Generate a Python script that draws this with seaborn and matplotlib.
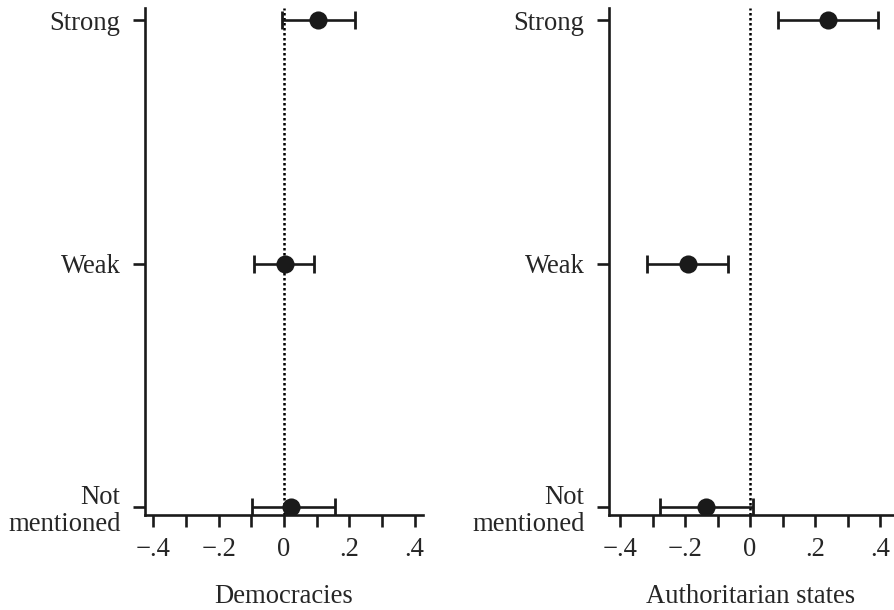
import matplotlib
matplotlib.use("Agg")
import matplotlib.pyplot as plt
import seaborn as sns
import numpy as np
import pandas as pd

categories = ["Strong", "Weak", "Not mentioned"]
cat_labels = ["Strong", "Weak", "Not\nmentioned"]

dem_est = [0.104, 0.003, 0.021]
dem_lo = [-0.006, -0.092, -0.098]
dem_hi = [0.218, 0.092, 0.156]

aut_est = [0.240, -0.190, -0.135]
aut_lo = [0.086, -0.317, -0.277]
aut_hi = [0.394, -0.068, 0.010]

panel_titles = ["Democracies", "Authoritarian states"]
xtick_vals = [-0.4, -0.2, 0.0, 0.2, 0.4]
xtick_labels = ["\u2212.4", "\u2212.2", "0", ".2", ".4"]
minor_vals = [-0.3, -0.1, 0.1, 0.3]

sns.set_theme(style="ticks")
plt.rcParams["font.family"] = ["Liberation Serif", "DejaVu Serif"]

fig = plt.figure(figsize=(8.95, 6.10), dpi=100)
ax1 = fig.add_axes([145/895, (610-515)/610, 278/895, (515-8)/610])
ax2 = fig.add_axes([609/895, (610-515)/610, 284/895, (515-8)/610])

panels = [
    (ax1, dem_est, dem_lo, dem_hi, (-0.426, 0.426)),
    (ax2, aut_est, aut_lo, aut_hi, (-0.434, 0.440)),
]

fs = 19.2
ink = "#1a1a1a"
for (ax, est, lo, hi, xl), title in zip(panels, panel_titles):
    df = pd.DataFrame({"cat": categories, "est": est, "lo": lo, "hi": hi})
    df["pos"] = np.arange(len(categories))
    ax.axvline(0, color="black", linestyle=(0, (1, 1.0)), lw=1.8, zorder=1)
    ax.errorbar(df["est"], df["pos"],
                xerr=[df["est"] - df["lo"], df["hi"] - df["est"]],
                fmt="none", ecolor=ink, elinewidth=1.9,
                capsize=6.5, capthick=2.0, zorder=2)
    sns.scatterplot(data=df, x="est", y="pos", ax=ax, s=170, color=ink,
                    edgecolor=ink, linewidth=0, zorder=3, legend=False)
    ax.set_xlim(*xl)
    ax.set_ylim(2.033, -0.05)
    ax.set_yticks(df["pos"])
    ax.set_yticklabels(cat_labels, fontsize=fs, linespacing=1.12, ha="right")
    ax.set_xticks(xtick_vals)
    ax.set_xticklabels(xtick_labels, fontsize=fs)
    ax.set_xticks(minor_vals, minor=True)
    ax.set_xlabel(title, fontsize=fs, labelpad=16)
    ax.set_ylabel("")
    for side in ["top", "right"]:
        ax.spines[side].set_visible(False)
    for side in ["left", "bottom"]:
        ax.spines[side].set_linewidth(1.9)
        ax.spines[side].set_color(ink)
    ax.tick_params(axis="x", which="both", length=8.6, width=1.9,
                   color=ink, pad=7, direction="out")
    ax.tick_params(axis="y", length=8.6, width=1.9, color=ink,
                   pad=9, direction="out")
    ax.set_facecolor("white")

fig.savefig("out.png", dpi=100, facecolor="white")
